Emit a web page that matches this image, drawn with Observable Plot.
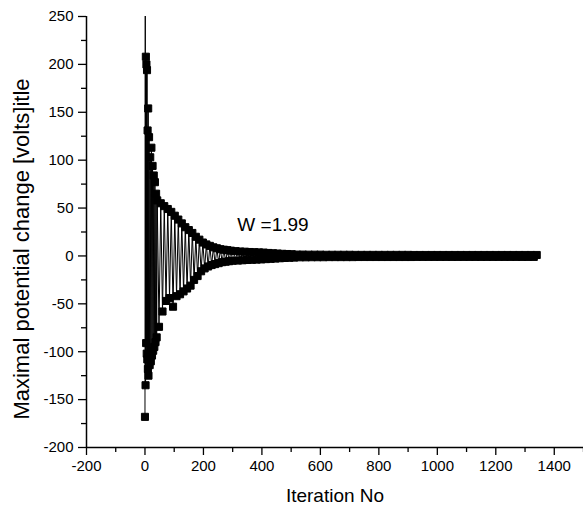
<!DOCTYPE html>
<html>
<head>
<meta charset="utf-8">
<script src="https://cdn.jsdelivr.net/npm/d3@7"></script>
<script src="https://cdn.jsdelivr.net/npm/@observablehq/plot@0.6"></script>
<style>
  html, body { margin: 0; padding: 0; background: #fff; }
  svg { display: block; }
</style>
</head>
<body>
<div id="chart"></div>
<script>
// Iteration numbers (x) and maximal potential change in volts (y)
const iterations = [
  0, 1, 2, 3, 4, 5, 6, 7, 8, 9, 10, 11, 12, 14, 16, 18, 20, 22, 24, 26, 28, 30, 32, 34, 36, 38, 40,
  42, 48, 54, 60, 66, 72, 78, 84, 90, 96, 102, 108, 114, 120, 126, 132, 138, 144, 150, 156, 162, 168,
  174, 180, 186, 192, 198, 204, 210, 216, 222, 228, 234, 240, 246, 252, 258, 264, 270, 276, 282, 288, 294, 300,
  310, 318, 326, 334, 342, 350, 358, 366, 374, 382, 390, 398, 406, 414, 422, 430, 438, 446, 454, 462,
  470, 478, 486, 494, 502, 510,
  520, 530, 540, 550, 560, 570, 580, 590, 600, 610,
  620, 630, 640, 650, 660, 670, 680, 690, 700, 710,
  720, 730, 740, 750, 760, 770, 780, 790, 800, 810,
  820, 830, 840, 850, 860, 870, 880, 890, 900, 910,
  920, 930, 940, 950, 960, 970, 980, 990, 1000, 1010,
  1020, 1030, 1040, 1050, 1060, 1070, 1080, 1090, 1100, 1110,
  1120, 1130, 1140, 1150, 1160, 1170, 1180, 1190, 1200, 1210,
  1220, 1230, 1240, 1250, 1260, 1270, 1280, 1290, 1300, 1310,
  1320, 1330, 1340
];
const potentialChange = [
  -168, 262, -135, 208, -91, 200, -102, 194, -108, 131, -118, 154, -125, 124, -114, 103, -110, 113, -104, 94, -99, 84, -95, 77, -90, 65, -85,
  58, -74, 55, -58, 52, -47, 49, -44, 46, -53, 42, -42, 38, -40, 34, -37, 30, -34, 27, -31, 24, -25,
  20, -21, 17, -16, 14, -13, 12, -11, 10.5, -9.5, 9, -8.5, 8, -7.5, 7, -6.5, 6.5, -6, 6, -5.5, 5.5, -5,
  5, -4.8, 4.6, -4.5, 4.4, -4.2, 4.1, -4, 3.9, -3.8, 3.7, -3.6, 3.5, -3.3, 3.1, -3, 2.8, -2.7, 2.5, -2.4,
  2.2, -2.1, 2, -1.9, 1.8, -1.7,
  1.4, -1.4, 1.4, -1.4, 1.3, -1.3, 1.3, -1.3, 1.3, -1.3,
  1.2, -1.2, 1.2, -1.2, 1.2, -1.2, 1.2, -1.2, 1.2, -1.2,
  1.1, -1.1, 1.1, -1.1, 1.1, -1.1, 1.1, -1.1, 1.1, -1.1,
  1.1, -1.1, 1.1, -1.1, 1.1, -1.1, 1.1, -1.1, 1.1, -1.1,
  1, -1, 1, -1, 1, -1, 1, -1, 1, -1,
  1, -1, 1, -1, 1, -1, 1, -1, 1, -1,
  1, -1, 1, -1, 1, -1, 1, -1, 1, -1,
  1, -1, 1, -1, 1, -1, 1, -1, 1, -1,
  1, -1, 1
];

// Axis ticks
const xMajorTicks = [-200, 0, 200, 400, 600, 800, 1000, 1200, 1400];
const xMinorTicks = [-100, 100, 300, 500, 700, 900, 1100, 1300, 1500];
const yMajorTicks = [-200, -150, -100, -50, 0, 50, 100, 150, 200, 250];
const yMinorTicks = [-175, -125, -75, -25, 25, 75, 125, 175, 225];

// Texts
const xTitle = "Iteration No";
const yTitle = "Maximal potential change [volts]itle";
const noteLabels = ["W =1.99"];
const noteX = [316];
const noteY = [32];

const data = iterations.map((x, i) => ({x, y: potentialChange[i]}));
const notes = noteLabels.map((label, i) => ({label, x: noteX[i], y: noteY[i]}));
const plain = d => String(d);

const plot = Plot.plot({
  width: 583,
  height: 512,
  marginLeft: 86,
  marginRight: 0,
  marginTop: 16,
  marginBottom: 65,
  x: {domain: [-200, 1500]},
  y: {domain: [-200, 250]},
  style: {
    fontFamily: "'Liberation Sans', Arial, sans-serif",
    fontSize: "15px",
    color: "black",
    background: "white"
  },
  marks: [
    Plot.line(data, {x: "x", y: "y", stroke: "black", strokeWidth: 1, clip: true}),
    Plot.dot(data, {x: "x", y: "y", symbol: "square", r: 4.0, fill: "black", stroke: "black", strokeWidth: 1, clip: true}),
    Plot.ruleX([-200], {stroke: "black", strokeWidth: 1.5}),
    Plot.ruleY([-200], {stroke: "black", strokeWidth: 1.5}),
    Plot.axisX({ticks: xMajorTicks, tickFormat: plain, tickSize: 8, tickPadding: 5, label: null, fontSize: 15, strokeWidth: 1.3}),
    Plot.axisX({ticks: xMinorTicks, tickSize: 5, tickFormat: () => "", label: null, strokeWidth: 1.3}),
    Plot.axisY({ticks: yMajorTicks, tickFormat: plain, tickSize: 8, tickPadding: 5, label: null, fontSize: 15, strokeWidth: 1.3}),
    Plot.axisY({ticks: yMinorTicks, tickSize: 5, tickFormat: () => "", label: null, strokeWidth: 1.3}),
    Plot.text([xTitle], {text: d => d, frameAnchor: "bottom", dy: 54, fontSize: 19, fill: "black"}),
    Plot.text([yTitle], {text: d => d, frameAnchor: "left", textAnchor: "middle", rotate: -90, dx: -65, dy: 17, fontSize: 22, fill: "black"}),
    Plot.text(notes, {x: "x", y: "y", text: "label", textAnchor: "start", fontSize: 19, fill: "black"})
  ]
});

document.getElementById("chart").appendChild(plot);
</script>
</body>
</html>
